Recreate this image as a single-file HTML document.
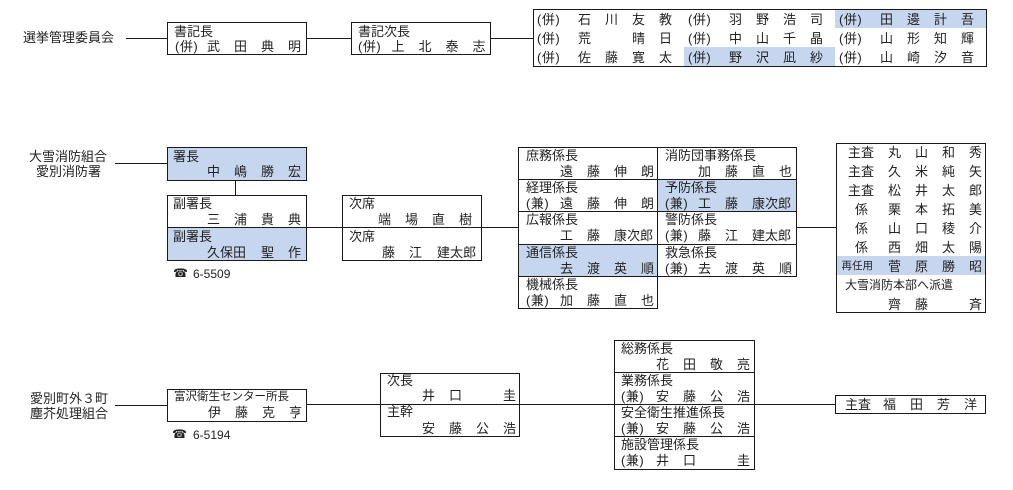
<!DOCTYPE html>
<html><head><meta charset="utf-8">
<style>
html,body{margin:0;padding:0;background:#fff;}
body{width:1013px;height:490px;position:relative;overflow:hidden;font-family:"Liberation Sans","Noto Sans CJK JP",sans-serif;color:#222;}
.b{position:absolute;border:1px solid #1a1a1a;box-sizing:border-box;}
.bl{background:#c6d6ee;}
.hl{position:absolute;background:#c6d6ee;}
.lh{position:absolute;height:1px;background:#1a1a1a;}
.lv{position:absolute;width:1px;background:#1a1a1a;}
.t{position:absolute;font-size:13px;line-height:15px;white-space:nowrap;}
.p{letter-spacing:0.5px;}
.s{display:inline-block;width:27px;}
.s2{display:inline-block;width:54px;}
.tel{font-family:"DejaVu Sans",sans-serif;font-size:12px;}
.n{font-size:12px;}
</style></head><body>

<!-- ===== TOP SECTION ===== -->
<div class="t" style="left:23px;top:30px">選挙管理委員会</div>
<div class="lh" style="left:126px;top:38px;width:41px"></div>

<div class="b" style="left:167px;top:22px;width:140px;height:33px"></div>
<div class="t" style="left:174px;top:23.5px">書記長</div>
<div class="t p" style="left:175px;top:38.5px">(併)</div>
<div class="t" style="left:207px;top:38.5px"><span class="s">武</span><span class="s">田</span><span class="s">典</span><span class="s">明</span></div>

<div class="lh" style="left:307px;top:38px;width:44px"></div>

<div class="b" style="left:351px;top:22px;width:140px;height:33px"></div>
<div class="t" style="left:358px;top:23.5px">書記次長</div>
<div class="t p" style="left:358px;top:38.5px">(併)</div>
<div class="t" style="left:391.5px;top:38.5px"><span class="s">上</span><span class="s">北</span><span class="s">泰</span><span class="s">志</span></div>

<div class="lh" style="left:491px;top:38px;width:42px"></div>

<div class="hl" style="left:835px;top:10px;width:151px;height:18px"></div>
<div class="hl" style="left:684px;top:47px;width:151px;height:19px"></div>
<div class="b" style="left:533px;top:9px;width:454px;height:58px"></div>

<!-- row 1 -->
<div class="t p" style="left:537px;top:11.5px">(併)</div>
<div class="t" style="left:578px;top:11.5px"><span class="s">石</span><span class="s">川</span><span class="s">友</span><span class="s">教</span></div>
<div class="t p" style="left:688px;top:11.5px">(併)</div>
<div class="t" style="left:729px;top:11.5px"><span class="s">羽</span><span class="s">野</span><span class="s">浩</span><span class="s">司</span></div>
<div class="t p" style="left:839px;top:11.5px">(併)</div>
<div class="t" style="left:880px;top:11.5px"><span class="s">田</span><span class="s">邊</span><span class="s">計</span><span class="s">吾</span></div>
<!-- row 2 -->
<div class="t p" style="left:537px;top:30.5px">(併)</div>
<div class="t" style="left:578px;top:30.5px"><span class="s">荒</span><span class="s"></span><span class="s">晴</span><span class="s">日</span></div>
<div class="t p" style="left:688px;top:30.5px">(併)</div>
<div class="t" style="left:729px;top:30.5px"><span class="s">中</span><span class="s">山</span><span class="s">千</span><span class="s">晶</span></div>
<div class="t p" style="left:839px;top:30.5px">(併)</div>
<div class="t" style="left:880px;top:30.5px"><span class="s">山</span><span class="s">形</span><span class="s">知</span><span class="s">輝</span></div>
<!-- row 3 -->
<div class="t p" style="left:537px;top:49.5px">(併)</div>
<div class="t" style="left:578px;top:49.5px"><span class="s">佐</span><span class="s">藤</span><span class="s">寛</span><span class="s">太</span></div>
<div class="t p" style="left:688px;top:49.5px">(併)</div>
<div class="t" style="left:729px;top:49.5px"><span class="s">野</span><span class="s">沢</span><span class="s">凪</span><span class="s">紗</span></div>
<div class="t p" style="left:839px;top:49.5px">(併)</div>
<div class="t" style="left:880px;top:49.5px"><span class="s">山</span><span class="s">崎</span><span class="s">汐</span><span class="s">音</span></div>

<!-- ===== MIDDLE SECTION ===== -->
<div class="t" style="left:29px;top:149px">大雪消防組合</div>
<div class="t" style="left:36px;top:164px">愛別消防署</div>
<div class="lh" style="left:115px;top:163px;width:52px"></div>

<div class="b bl" style="left:167px;top:147px;width:140px;height:34px"></div>
<div class="t" style="left:173px;top:148.5px">署長</div>
<div class="t" style="left:207px;top:164px"><span class="s">中</span><span class="s">嶋</span><span class="s">勝</span><span class="s">宏</span></div>

<div class="lv" style="left:235px;top:180px;height:16px"></div>

<div class="b" style="left:167px;top:195px;width:140px;height:33px"></div>
<div class="t" style="left:173px;top:195.5px">副署長</div>
<div class="t" style="left:207px;top:211.5px"><span class="s">三</span><span class="s">浦</span><span class="s">貴</span><span class="s">典</span></div>

<div class="b bl" style="left:167px;top:227px;width:140px;height:34px"></div>
<div class="t" style="left:173px;top:228.5px">副署長</div>
<div class="t" style="left:207px;top:244.5px"><span class="s2">久保田</span><span class="s">聖</span><span class="s">作</span></div>

<div class="t tel" style="left:173px;top:266px">☎</div>
<div class="t n" style="left:193px;top:266.5px">6-5509</div>

<div class="lh" style="left:307px;top:227px;width:35px"></div>

<div class="b" style="left:342px;top:195px;width:140px;height:33px"></div>
<div class="t" style="left:349px;top:196px">次席</div>
<div class="t" style="left:378px;top:211.5px"><span class="s">端</span><span class="s">場</span><span class="s">直</span><span class="s">樹</span></div>
<div class="b" style="left:342px;top:227px;width:140px;height:34px"></div>
<div class="t" style="left:349px;top:228.5px">次席</div>
<div class="t" style="left:382px;top:244.5px">藤</div>
<div class="t" style="left:409px;top:244.5px">江</div>
<div class="t" style="left:437px;top:244.5px">建太郎</div>

<div class="lh" style="left:482px;top:227px;width:36px"></div>

<!-- grid -->
<div class="b" style="left:518px;top:147px;width:140px;height:33px"></div>
<div class="t" style="left:526px;top:148px">庶務係長</div>
<div class="t" style="left:560px;top:163.5px"><span class="s">遠</span><span class="s">藤</span><span class="s">伸</span><span class="s">朗</span></div>

<div class="b" style="left:657px;top:147px;width:140px;height:33px"></div>
<div class="t" style="left:665px;top:148px">消防団事務係長</div>
<div class="t" style="left:698px;top:163.5px"><span class="s">加</span><span class="s">藤</span><span class="s">直</span><span class="s">也</span></div>

<div class="b" style="left:518px;top:179px;width:140px;height:33px"></div>
<div class="t" style="left:526px;top:180px">経理係長</div>
<div class="t p" style="left:526px;top:195.5px">(兼)</div>
<div class="t" style="left:560px;top:195.5px"><span class="s">遠</span><span class="s">藤</span><span class="s">伸</span><span class="s">朗</span></div>

<div class="b bl" style="left:657px;top:179px;width:140px;height:33px"></div>
<div class="t" style="left:665px;top:180px">予防係長</div>
<div class="t p" style="left:665px;top:195.5px">(兼)</div>
<div class="t" style="left:698px;top:195.5px"><span class="s">工</span><span class="s">藤</span>康次郎</div>

<div class="b" style="left:518px;top:211px;width:140px;height:34px"></div>
<div class="t" style="left:526px;top:212px">広報係長</div>
<div class="t" style="left:560px;top:228px"><span class="s">工</span><span class="s">藤</span>康次郎</div>

<div class="b" style="left:657px;top:211px;width:140px;height:34px"></div>
<div class="t" style="left:665px;top:212px">警防係長</div>
<div class="t p" style="left:665px;top:228px">(兼)</div>
<div class="t" style="left:698px;top:228px"><span class="s">藤</span><span class="s">江</span>建太郎</div>

<div class="b bl" style="left:518px;top:244px;width:140px;height:33px"></div>
<div class="t" style="left:526px;top:245px">通信係長</div>
<div class="t" style="left:560px;top:260.5px"><span class="s">去</span><span class="s">渡</span><span class="s">英</span><span class="s">順</span></div>

<div class="b" style="left:657px;top:244px;width:140px;height:33px"></div>
<div class="t" style="left:665px;top:245px">救急係長</div>
<div class="t p" style="left:665px;top:260.5px">(兼)</div>
<div class="t" style="left:698px;top:260.5px"><span class="s">去</span><span class="s">渡</span><span class="s">英</span><span class="s">順</span></div>

<div class="b" style="left:518px;top:276px;width:140px;height:33px"></div>
<div class="t" style="left:526px;top:277px">機械係長</div>
<div class="t p" style="left:526px;top:292.5px">(兼)</div>
<div class="t" style="left:560px;top:292.5px"><span class="s">加</span><span class="s">藤</span><span class="s">直</span><span class="s">也</span></div>

<div class="lh" style="left:796px;top:227px;width:40px"></div>

<!-- right box -->
<div class="hl" style="left:837px;top:256px;width:148px;height:19px"></div>
<div class="b" style="left:836px;top:143px;width:150px;height:170px"></div>
<div class="t" style="left:848px;top:144.5px">主査</div>
<div class="t" style="left:888px;top:144.5px"><span class="s">丸</span><span class="s">山</span><span class="s">和</span><span class="s">秀</span></div>
<div class="t" style="left:848px;top:163.5px">主査</div>
<div class="t" style="left:888px;top:163.5px"><span class="s">久</span><span class="s">米</span><span class="s">純</span><span class="s">矢</span></div>
<div class="t" style="left:848px;top:182.5px">主査</div>
<div class="t" style="left:888px;top:182.5px"><span class="s">松</span><span class="s">井</span><span class="s">太</span><span class="s">郎</span></div>
<div class="t" style="left:855px;top:201.5px">係</div>
<div class="t" style="left:888px;top:201.5px"><span class="s">栗</span><span class="s">本</span><span class="s">拓</span><span class="s">美</span></div>
<div class="t" style="left:855px;top:220.5px">係</div>
<div class="t" style="left:888px;top:220.5px"><span class="s">山</span><span class="s">口</span><span class="s">稜</span><span class="s">介</span></div>
<div class="t" style="left:855px;top:239.5px">係</div>
<div class="t" style="left:888px;top:239.5px"><span class="s">西</span><span class="s">畑</span><span class="s">太</span><span class="s">陽</span></div>
<div class="t" style="left:841.5px;top:258.5px;font-size:10.5px">再任用</div>
<div class="t" style="left:888px;top:258.5px"><span class="s">菅</span><span class="s">原</span><span class="s">勝</span><span class="s">昭</span></div>
<div class="t" style="left:845px;top:277.5px;font-size:12px">大雪消防本部へ派遣</div>
<div class="t" style="left:888px;top:296.5px"><span class="s">齊</span><span class="s">藤</span><span class="s"></span><span class="s">斉</span></div>

<!-- ===== BOTTOM SECTION ===== -->
<div class="t" style="left:30px;top:391px">愛別町外３町</div>
<div class="t" style="left:30px;top:405.5px">塵芥処理組合</div>
<div class="lh" style="left:115px;top:405px;width:52px"></div>

<div class="b" style="left:167px;top:389px;width:140px;height:33px"></div>
<div class="t" style="left:174px;top:390px;font-size:11.5px">富沢衛生センター所長</div>
<div class="t" style="left:208px;top:405px"><span class="s">伊</span><span class="s">藤</span><span class="s">克</span><span class="s">亨</span></div>

<div class="t tel" style="left:172px;top:427px">☎</div>
<div class="t n" style="left:193px;top:427.5px">6-5194</div>

<div class="lh" style="left:307px;top:404px;width:73px"></div>

<div class="b" style="left:380px;top:373px;width:140px;height:32px"></div>
<div class="t" style="left:387px;top:372.5px">次長</div>
<div class="t" style="left:422px;top:388px"><span class="s">井</span><span class="s">口</span><span class="s"></span><span class="s">圭</span></div>
<div class="b" style="left:380px;top:404px;width:140px;height:33px"></div>
<div class="t" style="left:387px;top:404px">主幹</div>
<div class="t" style="left:422px;top:420.5px"><span class="s">安</span><span class="s">藤</span><span class="s">公</span><span class="s">浩</span></div>

<div class="lh" style="left:520px;top:404px;width:94px"></div>

<div class="b" style="left:614px;top:340px;width:141px;height:33px"></div>
<div class="t" style="left:621px;top:341px">総務係長</div>
<div class="t" style="left:656px;top:356.5px"><span class="s">花</span><span class="s">田</span><span class="s">敬</span><span class="s">亮</span></div>

<div class="b" style="left:614px;top:372px;width:141px;height:33px"></div>
<div class="t" style="left:621px;top:373px">業務係長</div>
<div class="t p" style="left:621px;top:388.5px">(兼)</div>
<div class="t" style="left:656px;top:388.5px"><span class="s">安</span><span class="s">藤</span><span class="s">公</span><span class="s">浩</span></div>

<div class="b" style="left:614px;top:404px;width:141px;height:33px"></div>
<div class="t" style="left:621px;top:405px">安全衛生推進係長</div>
<div class="t p" style="left:621px;top:420.5px">(兼)</div>
<div class="t" style="left:656px;top:420.5px"><span class="s">安</span><span class="s">藤</span><span class="s">公</span><span class="s">浩</span></div>

<div class="b" style="left:614px;top:436px;width:141px;height:34px"></div>
<div class="t" style="left:621px;top:437px">施設管理係長</div>
<div class="t p" style="left:621px;top:453px">(兼)</div>
<div class="t" style="left:656px;top:453px"><span class="s">井</span><span class="s">口</span><span class="s"></span><span class="s">圭</span></div>

<div class="lh" style="left:755px;top:404px;width:80px"></div>

<div class="b" style="left:835px;top:395px;width:151px;height:19px"></div>
<div class="t" style="left:845px;top:397px">主査</div>
<div class="t" style="left:883px;top:397px"><span class="s">福</span><span class="s">田</span><span class="s">芳</span><span class="s">洋</span></div>

</body></html>
